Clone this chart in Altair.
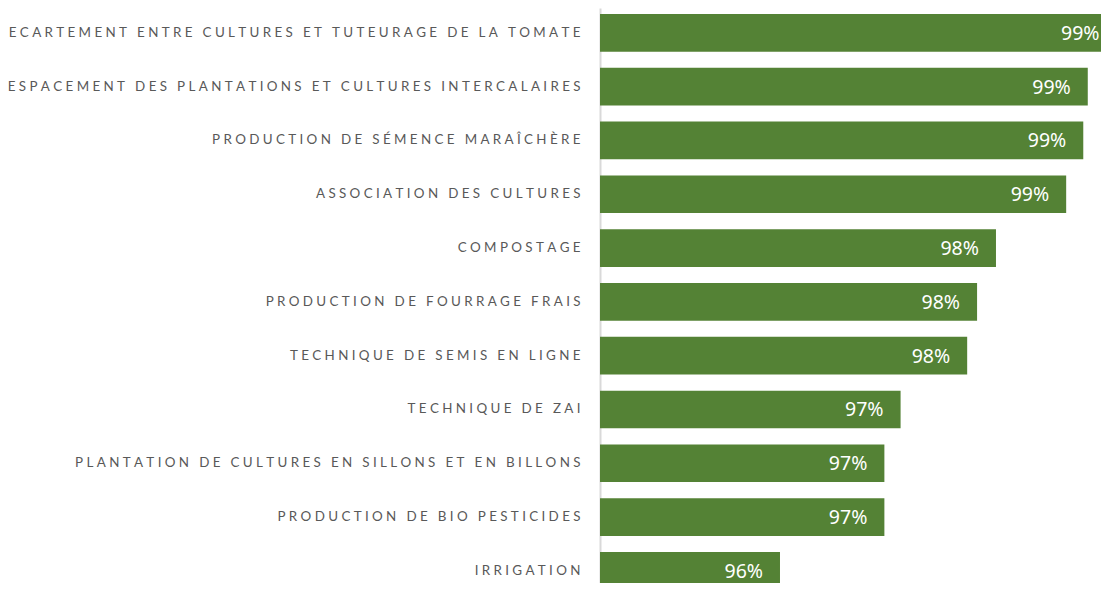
import altair as alt
import pandas as pd

categories = [
    "ECARTEMENT ENTRE CULTURES ET TUTEURAGE DE LA TOMATE",
    "ESPACEMENT DES PLANTATIONS ET CULTURES INTERCALAIRES",
    "PRODUCTION DE SÉMENCE MARAÎCHÈRE",
    "ASSOCIATION DES CULTURES",
    "COMPOSTAGE",
    "PRODUCTION DE FOURRAGE FRAIS",
    "TECHNIQUE DE SEMIS EN LIGNE",
    "TECHNIQUE DE ZAI",
    "PLANTATION DE CULTURES EN SILLONS ET EN BILLONS",
    "PRODUCTION DE BIO PESTICIDES",
    "IRRIGATION",
]
values = [0.9946, 0.9914, 0.9909, 0.9890, 0.9812, 0.9791, 0.9780,
          0.9706, 0.9688, 0.9688, 0.9572]

GAP = "\u2005"


def spaced(s):
    return GAP.join(list(s))


df = pd.DataFrame({
    "cat": [spaced(c) for c in categories],
    "value": values,
})
order = list(df["cat"])

y = alt.Y(
    "cat:N",
    sort=order,
    scale=alt.Scale(type="band", range=[0, 587.7], paddingInner=0.3, paddingOuter=0.1115),
    axis=alt.Axis(
        title=None,
        ticks=False,
        labelPadding=20,
        labelFont="Lato",
        labelFontSize=13.4,
        labelColor="#595959",
        labelLimit=0,
        domainColor="#d9d9d9",
        domainWidth=2,
    ),
)
x = alt.X(
    "value:Q",
    scale=alt.Scale(domain=[0.9372, 0.99287], nice=False, zero=False),
    axis=None,
)

bars = alt.Chart(df).mark_bar(color="#548235", clip=True).encode(y=y, x=x)
text = alt.Chart(df).mark_text(
    align="right", baseline="middle", dx=-17, dy=1,
    color="white", font="Noto Sans", fontSize=19.5,
).encode(y=y, x=x, text=alt.Text("value:Q", format=".0%"))

chart = (bars + text).properties(
    width=501,
    height=575,
    padding={"left": 592, "top": 0, "right": 0, "bottom": 0},
    autosize=alt.AutoSizeParams(type="none"),
).configure_view(stroke=None)

chart.save("out.html", embed_options={"renderer": "svg", "actions": False})
